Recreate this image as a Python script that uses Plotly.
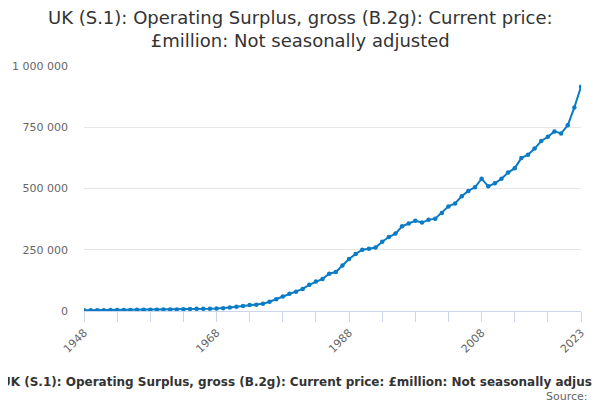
import plotly.graph_objects as go

years = list(range(1948, 2024))
values = [
    2600, 2800, 3100, 3500, 3600, 3900, 4200, 4500, 4700, 5000,
    5200, 5600, 6100, 6300, 6600, 7300, 8100, 8700, 8900, 9500,
    10500, 11500, 14500, 17000, 20000, 24000, 25500, 30000, 38000, 48000,
    59000, 70000, 79000, 90000, 107000, 120000, 131000, 152000, 159000, 186000,
    212000, 233000, 250000, 254000, 259000, 283000, 302000, 316000, 346000, 357000,
    368000, 361000, 372000, 377000, 400000, 427000, 439000, 468000, 490000, 505000,
    540000, 509000, 521000, 540000, 565000, 583000, 624000, 638000, 663000, 694000,
    711000, 733000, 725000, 758000, 831000, 915000,
]
tick_years = list(range(1948, 2024, 5))
labelled_years = [1948, 1968, 1988, 2008, 2023]
tick_text = [str(y) if y in labelled_years else "" for y in tick_years]
y_ticks = [0, 250000, 500000, 750000, 1000000]

title_text = "UK (S.1): Operating Surplus, gross (B.2g): Current price: £million: Not seasonally adjusted"
FONT = "DejaVu Sans"

# page has an 8px body margin; figure drawn at (8,8)
OFF = 8
W, H = 600 - OFF, 400 - OFF
ml = 84 - OFF
mt = 66 - OFF
plot_right = 581 - OFF
plot_bottom = 311 - OFF
mr = W - plot_right
mb = H - plot_bottom
ph = plot_bottom - mt
pw = plot_right - ml

def px_x(px):
    return (px - OFF - ml) / pw

def px_y(py):
    return (plot_bottom - (py - OFF)) / ph

fig = go.Figure()
fig.add_trace(go.Scatter(
    x=years, y=values, mode="lines+markers",
    line=dict(color="#0a7bc4", width=2),
    marker=dict(color="#0a7bc4", size=4.5),
    hoverinfo="x+y", showlegend=False,
))

fig.update_layout(
    width=W, height=H,
    margin=dict(l=ml, r=mr, t=mt, b=mb, autoexpand=False),
    paper_bgcolor="white", plot_bgcolor="white",
    separators=". ",
    font=dict(family=FONT, color="#666666", size=11),
    xaxis=dict(
        range=[1948, 2023], tickvals=tick_years, ticktext=tick_text,
        tickangle=-45, showgrid=False, zeroline=False,
        showline=True, linecolor="#ccd6eb", linewidth=1,
        ticks="outside", ticklen=10, tickcolor="#ccd6eb",
        tickfont=dict(size=11, color="#666666"),
    ),
    yaxis=dict(
        range=[0, 1000000], tickvals=y_ticks, tickformat=",d",
        showgrid=True, gridcolor="#e6e6e6", zeroline=False, showline=False,
        ticks="", ticklabelstandoff=15,
        tickfont=dict(size=11, color="#666666"),
    ),
    annotations=[
        dict(
            text="UK (S.1): Operating Surplus, gross (B.2g): Current price:<br>£million: Not seasonally adjusted",
            xref="paper", yref="paper",
            x=px_x(300), y=px_y(29),
            xanchor="center", yanchor="middle", showarrow=False,
            font=dict(family=FONT, size=18, color="#333333"),
        ),
        dict(
            text="<b>" + title_text + "</b>",
            xref="paper", yref="paper",
            x=px_x(307), y=px_y(382),
            xanchor="center", yanchor="middle", showarrow=False,
            font=dict(family=FONT, size=12, color="#333333"),
        ),
        dict(
            text="Source:",
            xref="paper", yref="paper",
            x=px_x(590), y=px_y(396),
            xanchor="right", yanchor="middle", showarrow=False,
            font=dict(family=FONT, size=11, color="#666666"),
        ),
    ],
)

fig.write_html("out.html")
